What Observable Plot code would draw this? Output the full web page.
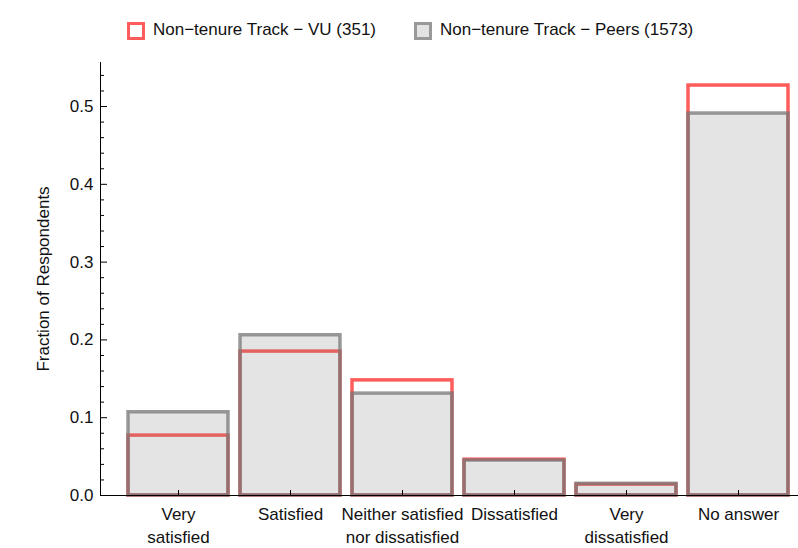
<!DOCTYPE html>
<html><head><meta charset="utf-8">
<script src="https://cdn.jsdelivr.net/npm/d3@7"></script>
<script src="https://cdn.jsdelivr.net/npm/@observablehq/plot@0.6"></script>
<style>
body{margin:0;background:#fff;font-family:"Liberation Sans",Arial,sans-serif;}
#legend{position:relative;height:50px;width:798px;font-size:17px;color:#111}
.sw{position:absolute;top:22px;width:12px;height:12px;border:3px solid;box-sizing:content-box}
.lt{position:absolute;top:20px;line-height:20px;white-space:nowrap}
</style></head><body>
<div id="legend"></div>
<div id="chart"></div>
<script>
const categories = ["Very\nsatisfied", "Satisfied", "Neither satisfied\nnor dissatisfied", "Dissatisfied", "Very\ndissatisfied", "No answer"];
const vuValues = [0.077, 0.185, 0.148, 0.046, 0.014, 0.527];
const peerValues = [0.107, 0.206, 0.131, 0.045, 0.015, 0.491];
const seriesNames = ["Non\u2212tenure Track \u2212 VU (351)", "Non\u2212tenure Track \u2212 Peers (1573)"];
const yMajorTicks = [0, 0.1, 0.2, 0.3, 0.4, 0.5];
const yMinorTicks = [0.02, 0.04, 0.06, 0.08, 0.12, 0.14, 0.16, 0.18, 0.22, 0.24, 0.26, 0.28, 0.32, 0.34, 0.36, 0.38, 0.42, 0.44, 0.46, 0.48, 0.52, 0.54];
const yLabel = "Fraction of Respondents";

const RED = "#ff5c5c";
const GRAY = "#777";

// legend
const legend = document.getElementById("legend");
legend.innerHTML = `
  <div class="sw" style="left:127px;border-color:${RED};background:#fff"></div>
  <div class="lt" style="left:153px">${seriesNames[0]}</div>
  <div class="sw" style="left:414px;border-color:#999;background:#e3e3e3"></div>
  <div class="lt" style="left:440px">${seriesNames[1]}</div>`;

const vuData = categories.map((c, i) => ({cat: c, v: vuValues[i]}));
const peerData = categories.map((c, i) => ({cat: c, v: peerValues[i]}));

const chart = Plot.plot({
  width: 798, height: 498,
  marginTop: 12, marginBottom: 53, marginLeft: 100, marginRight: 0,
  style: {fontFamily: '"Liberation Sans", Arial, sans-serif', fontSize: "17px", color: "#111", background: "#fff", overflow: "visible"},
  x: {domain: categories, range: [122, 794], paddingInner: 0.107, paddingOuter: 0.0535, axis: null, label: null},
  y: {domain: [0, 0.5566], axis: null, label: null},
  marks: [
    Plot.barY(vuData, {x: "cat", y: "v", fill: "none", stroke: RED, strokeWidth: 3.5}),
    Plot.barY(peerData, {x: "cat", y: "v", fill: GRAY, fillOpacity: 0.2, stroke: GRAY, strokeOpacity: 0.75, strokeWidth: 3.5}),
    Plot.ruleY([0], {stroke: "#000", strokeWidth: 1}),
    Plot.frame({anchor: "left", stroke: "#000", strokeWidth: 1}),
    Plot.axisY(yMajorTicks, {tickSize: -7, tickPadding: 14, tickFormat: d3.format(".1f"), label: null, stroke: "#000", fill: "#111", fontSize: 17}),
    Plot.axisY(yMinorTicks, {tickSize: -4, label: null, stroke: "#000", fill: "none"}),
    Plot.axisX({tickSize: -5, tickPadding: 12, lineHeight: 1.41, label: null, stroke: "#000", fill: "#111", fontSize: 17}),
    Plot.text([yLabel], {text: d => d, frameAnchor: "left", textAnchor: "middle", dx: -57, rotate: -90, fontSize: 17, fill: "#111"})
  ]
});
document.getElementById("chart").appendChild(chart);
</script>
</body></html>
